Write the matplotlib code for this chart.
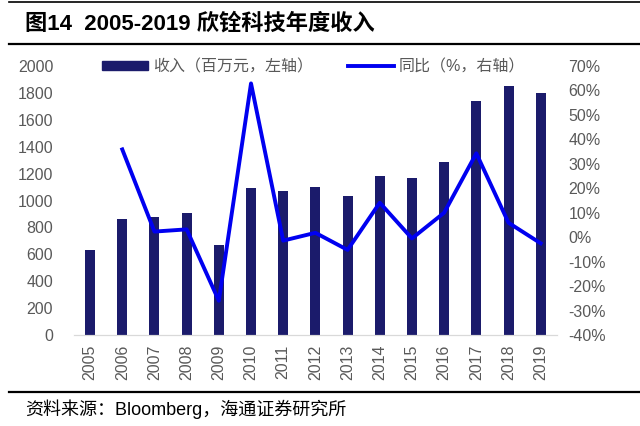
import numpy as np
import matplotlib.pyplot as plt
from matplotlib.lines import Line2D

plt.rcParams['font.family'] = ['Liberation Sans', 'Noto Sans CJK SC', 'DejaVu Sans']

# dados
anos = [str(a) for a in range(2005, 2020)]
receita = [632, 860, 880, 910, 669, 1090, 1073, 1098, 1033, 1182, 1167, 1286, 1740, 1851, 1797]
crescimento = [np.nan, 35.9, 2.3, 3.2, -26.0, 62.9, -1.4, 1.8, -5.2, 14.1, -0.5, 10.0, 34.3, 5.9, -2.5]

cor_barra = '#1b1b6b'
cor_linha = '#0000f0'
cor_texto = '#595959'

fig = plt.figure(figsize=(6.4, 4.26), dpi=100)
ax = fig.add_axes([0.1156, 0.2136, 0.7544, 0.6314])
x = np.arange(len(anos))
ax.bar(x, receita, width=0.31, color=cor_barra, zorder=2)
ax.set_xlim(-0.5, len(anos) - 0.5)
ax.set_ylim(0, 2000)
ax.set_yticks(range(0, 2001, 200))
ax.set_xticks(x)
ax.set_xticklabels(anos, rotation=90)

ax2 = ax.twinx()
ax2.plot(x, np.array(crescimento) / 100, color=cor_linha, lw=2.8, zorder=3)
ax2.set_ylim(-0.4, 0.7)
ax2.set_yticks(np.arange(-0.4, 0.71, 0.1))
ax2.set_yticklabels([f'{v}%' for v in range(-40, 71, 10)])

for a in (ax, ax2):
    for s in ['top', 'left', 'right']:
        a.spines[s].set_visible(False)
    a.spines['bottom'].set_color('#d9d9d9')
    a.tick_params(length=0, labelsize=11.5, colors=cor_texto)
ax.tick_params(axis='y', pad=15)
ax.tick_params(axis='x', pad=7)
ax2.tick_params(axis='y', pad=8.5)

# legenda
alca = [plt.Rectangle((0, 0), 1, 1, color=cor_barra),
        Line2D([0], [0], color=cor_linha, lw=2.8)]
leg = fig.legend(alca, ['收入（百万元，左轴）', '同比（%，右轴）'], ncol=2,
                 loc='center', bbox_to_anchor=(0.49, 0.843), frameon=False,
                 fontsize=11.5, handlelength=2.9, handleheight=0.5,
                 columnspacing=2.2, handletextpad=0.3)
for t in leg.get_texts():
    t.set_color(cor_texto)

# titulo e linhas
fig.text(0.039, 0.945, '图14  2005-2019 欣铨科技年度收入', fontsize=16,
         fontweight='bold', va='center', ha='left')
for yy, lw in [(0.995, 1.2), (0.897, 1.6), (0.08, 1.6)]:
    fig.add_artist(Line2D([0.014, 1.0], [yy, yy], color='black', lw=lw))
fig.text(0.039, 0.04, '资料来源：Bloomberg，海通证券研究所', fontsize=13,
         va='center', ha='left')

fig.savefig('out.png', dpi=100)
